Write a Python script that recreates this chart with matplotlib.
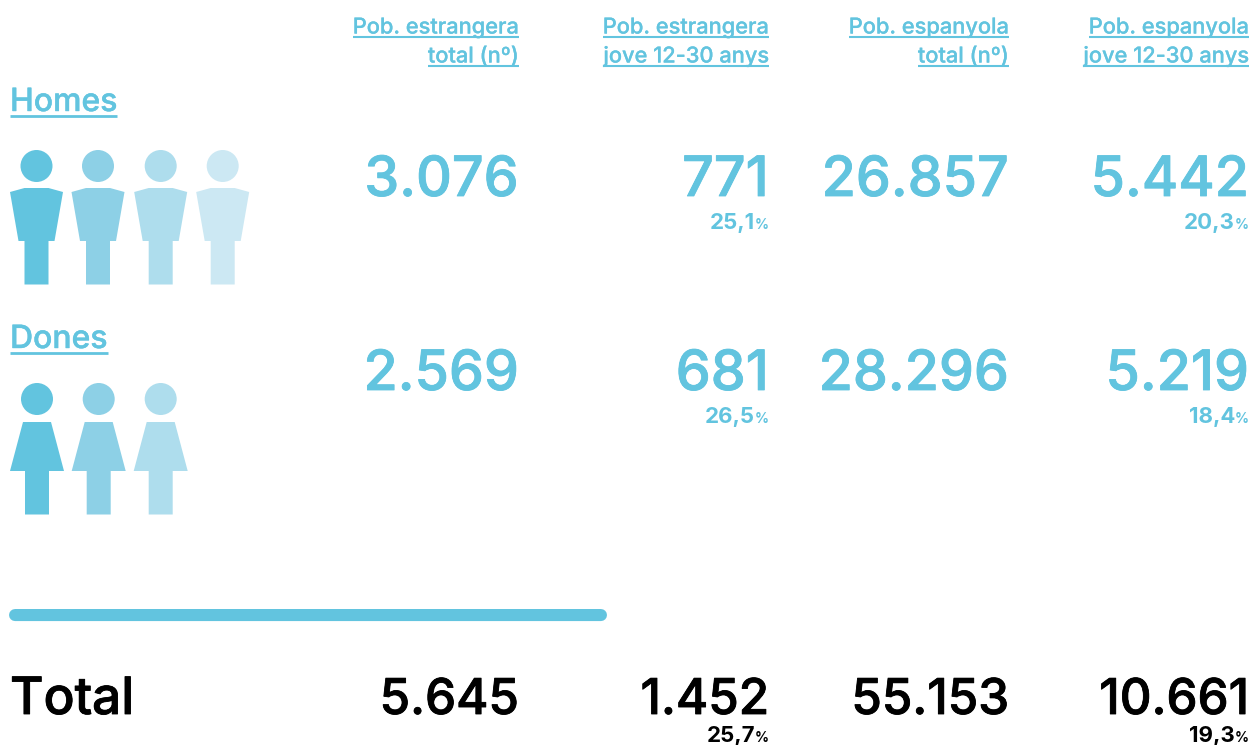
import matplotlib
matplotlib.use("Agg")
import matplotlib.pyplot as plt
import matplotlib.patheffects as pe
from matplotlib.patches import Circle, Polygon, FancyBboxPatch

FONT = "Inter"
BLUE = "#62C4DF"
SHADES = ["#62C4DF", "#8DD0E6", "#AEDDED", "#CCE8F3"]

headers = [("Pob. estrangera", "total (nº)"), ("Pob. estrangera", "jove 12-30 anys"),
           ("Pob. espanyola", "total (nº)"), ("Pob. espanyola", "jove 12-30 anys")]
homes_vals = ["3.076", "771", "26.857", "5.442"]
homes_pct = [None, "25,1", None, "20,3"]
dones_vals = ["2.569", "681", "28.296", "5.219"]
dones_pct = [None, "26,5", None, "18,4"]
total_vals = ["5.645", "1.452", "55.153", "10.661"]
total_pct = [None, "25,7", None, "19,3"]
man_centers = [36.5, 98, 160.7, 222.7]
woman_centers = [37, 98.7, 160.7]

col_right = [519, 769, 1009, 1249]

fig = plt.figure(figsize=(12.54, 7.45), dpi=100)
ax = fig.add_axes([0, 0, 1, 1])
ax.set_xlim(0, 1254)
ax.set_ylim(745, 0)
ax.axis("off")


def T(x, y, s, size, color=BLUE, ha="right", weight="medium", stroke=0.0):
    t = ax.text(x, y, s, fontsize=size, color=color, ha=ha, va="baseline",
                family=FONT, fontweight=weight)
    if stroke:
        t.set_path_effects([pe.withStroke(linewidth=stroke, foreground=color)])
    return t


def underlined(x, y, s, size, ha="right", gap=3.5, lw=1.5, stroke=0.15):
    t = T(x, y, s, size, ha=ha, stroke=stroke)
    fig.canvas.draw()
    bb = t.get_window_extent().transformed(ax.transData.inverted())
    ax.plot([bb.x0, bb.x1], [y + gap, y + gap], color=BLUE, lw=lw, solid_capstyle="butt")


def pct(x, y, s, color=BLUE):
    p = T(x, y, "%", 10, color=color, weight="bold")
    fig.canvas.draw()
    bb = p.get_window_extent().transformed(ax.transData.inverted())
    T(bb.x0, y, s, 16, color=color, weight="bold")


def man(cx, c):
    ax.add_patch(Circle((cx, 166), 16, fc=c, ec="none"))
    ax.add_patch(Polygon([(cx - 12, 188), (cx + 12, 188), (cx + 26.5, 192), (cx + 18, 241),
                          (cx + 12, 241), (cx + 12, 284.5), (cx - 12, 284.5), (cx - 12, 241),
                          (cx - 18, 241), (cx - 26.5, 192)], fc=c, ec="none"))


def woman(cx, c):
    ax.add_patch(Circle((cx, 399), 16, fc=c, ec="none"))
    ax.add_patch(Polygon([(cx - 14, 422), (cx + 14, 422), (cx + 27, 471), (cx + 12, 471),
                          (cx + 12, 514.5), (cx - 12, 514.5), (cx - 12, 471), (cx - 27, 471)],
                         fc=c, ec="none"))


for r, (a, b) in zip(col_right, headers):
    underlined(r, 33.5, a, 15.7)
    underlined(r, 62.5, b, 15.7)

underlined(10, 111, "Homes", 23, ha="left", gap=4.5, lw=2, stroke=0.3)
underlined(10, 348, "Dones", 23, ha="left", gap=4.5, lw=2, stroke=0.3)

for cx, c in zip(man_centers, SHADES):
    man(cx, c)
for cx, c in zip(woman_centers, SHADES):
    woman(cx, c)

for r, v, p in zip(col_right, homes_vals, homes_pct):
    T(r, 196, v, 40, stroke=0.6)
    if p:
        pct(r, 229, p)
for r, v, p in zip(col_right, dones_vals, dones_pct):
    T(r, 390, v, 40, stroke=0.6)
    if p:
        pct(r, 423, p)

ax.add_patch(FancyBboxPatch((15, 615), 586, 0.1, boxstyle="round,pad=0,rounding_size=0",
                            fc=BLUE, ec=BLUE, lw=8.6, capstyle="round", joinstyle="round"))

T(10, 714, "Total", 37, color="black", ha="left", stroke=0.6)
for r, v, p in zip(col_right, total_vals, total_pct):
    T(r, 714, v, 35.5, color="black", stroke=0.6)
    if p:
        pct(r, 742, p, color="black")

fig.savefig("out.png", dpi=100)
